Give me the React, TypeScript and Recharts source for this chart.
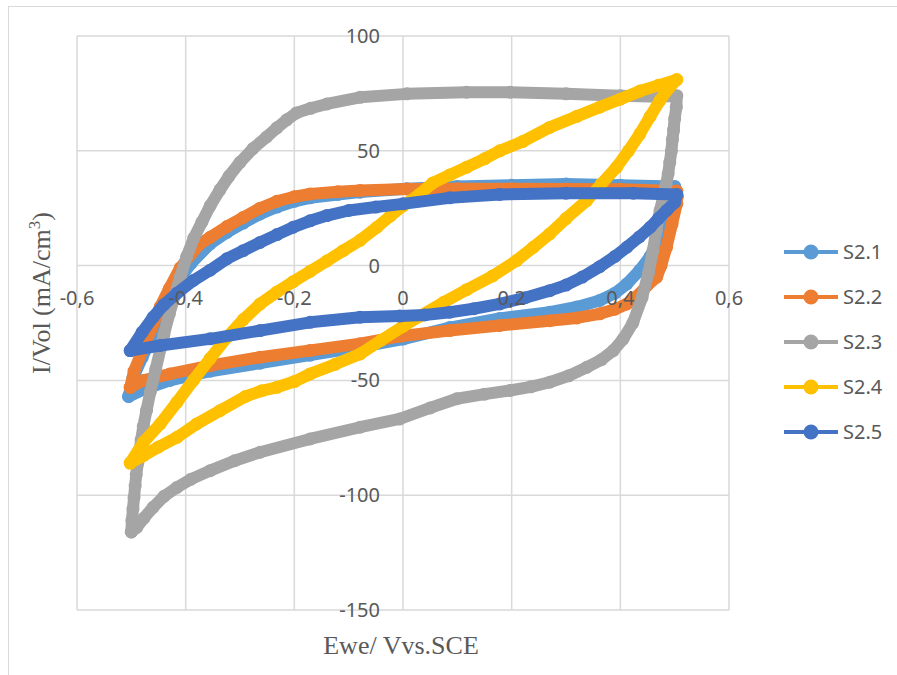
import { CartesianGrid, Legend, Scatter, ScatterChart, XAxis, YAxis } from "recharts";

const X_TICKS = [-0.6, -0.4, -0.2, 0, 0.2, 0.4, 0.6];
const Y_TICKS = [-150, -100, -50, 0, 50, 100];

// [E (V), I/Vol (mA/cm3)] in scan order
const S21: [number, number][] = [
  [-0.505, -57], [-0.497, -49], [-0.48, -40], [-0.462, -31], [-0.447, -23], [-0.43, -15],
  [-0.412, -6], [-0.39, 1], [-0.355, 9.5], [-0.324, 14.5], [-0.294, 18.5], [-0.263, 22.5],
  [-0.232, 25.5], [-0.2, 28], [-0.171, 29.5], [-0.12, 31], [-0.079, 32], [0.007, 33.5],
  [0.1, 34.5], [0.2, 35], [0.3, 35.5], [0.4, 35], [0.5, 34.5], [0.505, 30], [0.49, 20],
  [0.473, 12], [0.455, 4], [0.436, -2], [0.412, -8], [0.39, -12], [0.362, -15.2],
  [0.32, -18], [0.27, -20.3], [0.178, -23], [0.086, -27], [0, -32], [-0.079, -35.5],
  [-0.171, -39], [-0.263, -42.5], [-0.355, -46], [-0.429, -50], [-0.478, -54], [-0.505, -57],
];

const S22: [number, number][] = [
  [-0.502, -53], [-0.495, -46], [-0.478, -36], [-0.462, -27], [-0.447, -18], [-0.43, -10],
  [-0.41, -1], [-0.39, 5], [-0.374, 9.4], [-0.355, 12.3], [-0.324, 17], [-0.294, 21],
  [-0.263, 25], [-0.232, 28], [-0.2, 30], [-0.171, 31.2], [-0.12, 32.2], [-0.079, 32.7],
  [0.007, 33.4], [0.1, 33.5], [0.2, 33.5], [0.3, 33.4], [0.4, 33.2], [0.504, 32.5],
  [0.504, 27], [0.495, 18], [0.485, 8], [0.475, 0], [0.467, -5], [0.448, -9], [0.43, -13.5],
  [0.412, -16.7], [0.39, -19], [0.362, -21], [0.32, -22.8], [0.27, -24], [0.178, -26.1],
  [0.086, -28.3], [-0.006, -30.8], [-0.079, -34], [-0.171, -37], [-0.263, -39.9],
  [-0.355, -43.6], [-0.429, -47.2], [-0.478, -50], [-0.502, -53],
];

const S23: [number, number][] = [
  [-0.5, -116], [-0.499, -111], [-0.497, -106], [-0.495, -101], [-0.493, -96], [-0.491, -91],
  [-0.488, -86], [-0.485, -81], [-0.482, -76], [-0.478, -70], [-0.472, -63], [-0.465, -55],
  [-0.455, -45], [-0.44, -30], [-0.43, -21], [-0.42, -13], [-0.41, -5], [-0.398, 4], [-0.385, 12],
  [-0.37, 19], [-0.355, 26], [-0.337, 33], [-0.32, 39], [-0.3, 45], [-0.276, 51], [-0.251, 56],
  [-0.232, 60], [-0.214, 63.5], [-0.196, 66.5], [-0.17, 68.5], [-0.14, 70.4], [-0.079, 73.3],
  [0.007, 74.8], [0.117, 75.5], [0.197, 75.5], [0.3, 74.8], [0.4, 74], [0.473, 73.5],
  [0.504, 74], [0.503, 69], [0.5, 64], [0.498, 59], [0.496, 55], [0.494, 50], [0.491, 45],
  [0.488, 40], [0.484, 35], [0.479, 30], [0.473, 24], [0.466, 15], [0.46, 6.5], [0.452, -3],
  [0.44, -14], [0.423, -25], [0.405, -32], [0.387, -37], [0.365, -41], [0.338, -44.3],
  [0.305, -48], [0.27, -50.8], [0.235, -52.8], [0.197, -54.4], [0.15, -56], [0.099, -58],
  [0.05, -62], [-0.006, -66.8], [-0.079, -70.4], [-0.171, -75.5], [-0.263, -81.3],
  [-0.31, -85], [-0.355, -89.3], [-0.39, -93], [-0.416, -96.6], [-0.44, -100.5],
  [-0.46, -105.3], [-0.477, -110], [-0.49, -114], [-0.5, -116],
];

const S24: [number, number][] = [
  [-0.502, -86], [-0.478, -77], [-0.447, -69], [-0.416, -59.5], [-0.386, -50], [-0.355, -40.5],
  [-0.324, -31.2], [-0.294, -23.5], [-0.263, -16.7], [-0.232, -11.5], [-0.202, -7], [-0.171, -2.5],
  [-0.14, 2], [-0.11, 6.5], [-0.079, 11], [-0.048, 16.7], [-0.024, 21.5], [0, 26], [0.03, 31],
  [0.055, 36], [0.086, 39.5], [0.117, 42.8], [0.15, 46.5], [0.178, 50], [0.22, 54], [0.27, 60.2],
  [0.32, 65], [0.362, 69], [0.4, 72.5], [0.436, 76], [0.47, 78.5], [0.504, 81], [0.49, 77.5],
  [0.473, 72], [0.455, 65], [0.436, 57.4], [0.415, 50], [0.393, 42.8], [0.365, 35.5],
  [0.338, 28.3], [0.3, 20.5], [0.27, 13.8], [0.24, 8], [0.209, 2.2], [0.165, -4.5],
  [0.117, -10.5], [0.075, -16], [0.031, -22], [0, -26.5], [-0.04, -32.5], [-0.079, -38.5],
  [-0.125, -43], [-0.171, -47.2], [-0.2, -50.5], [-0.232, -53], [-0.26, -54.5], [-0.29, -57],
  [-0.337, -63.2], [-0.38, -69], [-0.416, -74.8], [-0.45, -79], [-0.478, -82.8], [-0.502, -86],
];

const S25: [number, number][] = [
  [-0.502, -37], [-0.48, -29], [-0.46, -22.5], [-0.44, -17], [-0.416, -12], [-0.386, -6.5],
  [-0.355, -2], [-0.324, 3], [-0.294, 6.5], [-0.263, 10.1], [-0.232, 13.5], [-0.202, 16.7],
  [-0.171, 19.5], [-0.14, 21.8], [-0.1, 24], [-0.05, 25.5], [0, 26.9], [0.086, 29.5],
  [0.178, 31], [0.3, 31.5], [0.424, 31.5], [0.504, 31], [0.5, 27.5], [0.485, 24], [0.47, 20.5],
  [0.455, 16.7], [0.435, 12.5], [0.412, 8], [0.39, 4], [0.362, -0.5], [0.33, -5], [0.3, -8.5],
  [0.27, -10.9], [0.225, -14], [0.178, -16.7], [0.13, -18.8], [0.086, -20.3], [0.04, -21.5],
  [-0.006, -22], [-0.079, -22.5], [-0.171, -24.7], [-0.263, -28.3], [-0.355, -31.9],
  [-0.447, -34.8], [-0.502, -37],
];

const SERIES = [
  { name: "S2.1", color: "#5B9BD5", points: S21 },
  { name: "S2.2", color: "#ED7D31", points: S22 },
  { name: "S2.3", color: "#A5A5A5", points: S23 },
  { name: "S2.4", color: "#FFC000", points: S24 },
  { name: "S2.5", color: "#4472C4", points: S25 },
];

const W = 897;
const H = 675;
const M = { top: 36, right: 168, bottom: 64, left: 76 };
const AXIS_PAD = 1;
const PLOT_W = W - M.left - M.right - AXIS_PAD;
const PLOT_H = H - M.top - M.bottom - AXIS_PAD;
const ZERO_X = M.left + AXIS_PAD + PLOT_W / 2;
const ZERO_Y = M.top + (PLOT_H * 100) / 250;

const TEXT = "#595959";
const SANS = "'Noto Sans', sans-serif";
const SERIF = "'Liberation Serif', 'Times New Roman', serif";

const fmt = (v: number) => String(v).replace(".", ",");

const renderXTick = (p: any) => (
  <text x={p.x} y={ZERO_Y + 39} textAnchor="middle" fill={TEXT} fontSize={20} fontFamily={SANS}>
    {fmt(p.payload.value)}
  </text>
);

const renderYTick = (p: any) => (
  <text x={ZERO_X - 23} y={p.y + 7} textAnchor="end" fill={TEXT} fontSize={20} fontFamily={SANS}>
    {fmt(p.payload.value)}
  </text>
);

function LegendBox() {
  return (
    <div>
      {SERIES.map((s) => (
        <div key={s.name} style={{ display: "flex", alignItems: "center", height: 45 }}>
          <svg width={56} height={20}>
            <line x1={0} y1={10} x2={54} y2={10} stroke={s.color} strokeWidth={4} />
            <circle cx={27} cy={10} r={7.5} fill={s.color} />
          </svg>
          <span style={{ fontFamily: SANS, fontSize: 20, color: TEXT, marginLeft: 3 }}>{s.name}</span>
        </div>
      ))}
    </div>
  );
}

export default function App() {
  return (
    <div style={{ position: "absolute", left: 0, top: 0, width: W, height: H, background: "#fff", overflow: "hidden" }}>
      <div style={{ position: "absolute", left: 8, top: 6, width: 1000, height: 1000, border: "1px solid #d9d9d9" }} />
      <ScatterChart width={W} height={H} margin={M}>
        <CartesianGrid stroke="#d9d9d9" strokeWidth={1.5} />
        <XAxis
          type="number"
          dataKey="x"
          domain={[-0.6, 0.6]}
          ticks={X_TICKS}
          height={AXIS_PAD}
          axisLine={false}
          tickLine={false}
          tick={renderXTick}
          interval={0}
          allowDataOverflow
        />
        <YAxis
          type="number"
          dataKey="y"
          domain={[-150, 100]}
          ticks={Y_TICKS}
          width={AXIS_PAD}
          axisLine={false}
          tickLine={false}
          tick={renderYTick}
          interval={0}
          allowDataOverflow
        />
        {SERIES.map((s) => (
          <Scatter
            key={s.name}
            name={s.name}
            data={s.points.map(([x, y]) => ({ x, y }))}
            fill={s.color}
            line={{ stroke: s.color, strokeWidth: 12, strokeLinejoin: "round", strokeLinecap: "round" }}
            lineType="joint"
            shape={(p: any) => <circle cx={p.cx} cy={p.cy} r={6.5} fill={s.color} />}
            isAnimationActive={false}
          />
        ))}
        <Legend
          layout="horizontal"
          verticalAlign="middle"
          align="center"
          wrapperStyle={{ left: 784, top: 229, width: 110 }}
          content={() => <LegendBox />}
        />
      </ScatterChart>
      <svg width={W} height={H} style={{ position: "absolute", left: 0, top: 0, pointerEvents: "none" }}>
        <text x={401} y={654} textAnchor="middle" fill={TEXT} fontSize={26} fontFamily={SERIF}>
          Ewe/ Vvs.SCE
        </text>
        <text
          transform="translate(50,293) rotate(-90)"
          textAnchor="middle"
          fill={TEXT}
          fontSize={26}
          fontFamily={SERIF}
        >
          I/Vol (mA/cm
          <tspan fontSize={17} dy={-10}>3</tspan>
          <tspan dy={10}>)</tspan>
        </text>
      </svg>
    </div>
  );
}
